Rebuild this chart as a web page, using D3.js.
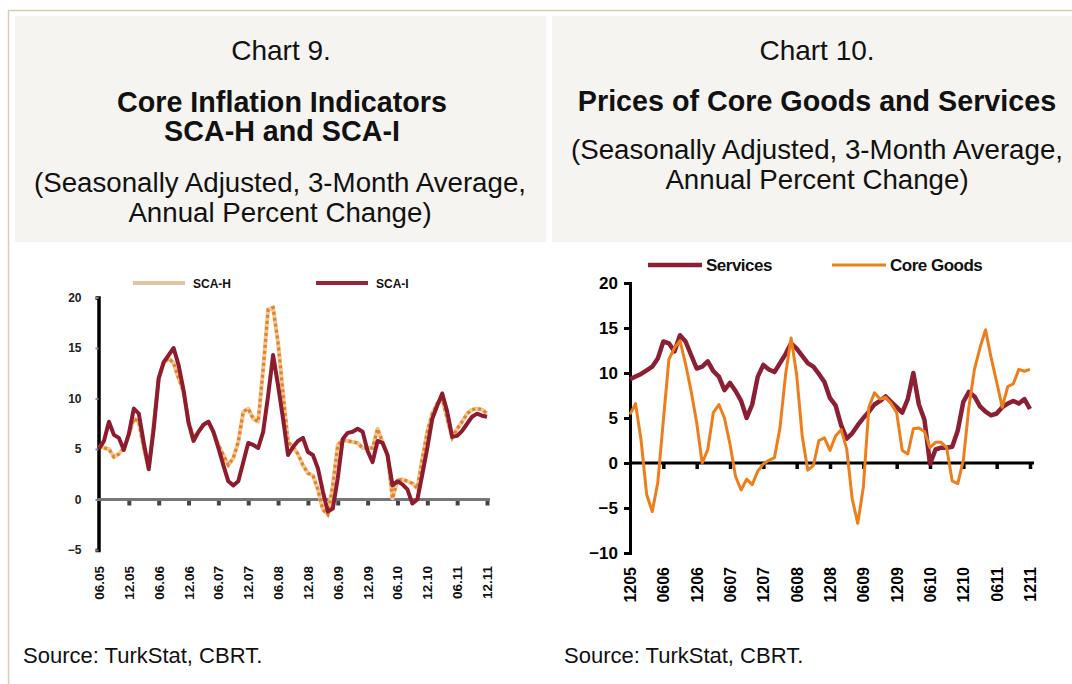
<!DOCTYPE html>
<html>
<head>
<meta charset="utf-8">
<script src="https://cdn.jsdelivr.net/npm/d3@7"></script>
<style>
  html, body { margin: 0; padding: 0; background: #ffffff; }
  svg { display: block; font-family: "Liberation Sans", Arial, sans-serif; }
</style>
</head>
<body>
<svg id="chart" width="1072" height="684"></svg>
<script>
// ---------- Chart 9 data (monthly, Jun 2005 - Dec 2011) ----------
const leftTickLabels = ["06.05","12.05","06.06","12.06","06.07","12.07","06.08","12.08","06.09","12.09","06.10","12.10","06.11","12.11"];
const leftYTicks = [-5, 0, 5, 10, 15, 20];
const scaH = [5.4,5.1,5.0,4.2,4.5,5.1,6.4,8.0,7.7,5.1,3.1,7.5,12.0,13.5,14.0,13.5,12.0,10.7,7.7,6.1,
  6.7,7.4,7.7,6.7,5.4,4.4,3.4,4.1,5.7,8.7,9.0,8.0,7.7,12.9,18.8,19.0,15.5,10.5,5.7,5.2,
  4.5,3.4,2.6,2.4,1.0,-1.0,-1.5,1.4,5.4,5.9,5.8,5.7,5.6,5.1,5.1,5.1,7.0,5.7,4.4,0.1,
  1.9,2.0,1.8,1.6,1.1,4.1,6.7,8.5,9.5,10.0,8.0,6.1,7.0,7.7,8.5,8.9,9.0,8.9,8.5];
const scaI = [5.0,5.8,7.7,6.4,6.1,4.9,6.5,9.0,8.5,5.6,3.0,7.0,12.0,13.6,14.3,15.0,13.3,10.8,7.6,5.8,
  6.7,7.4,7.7,6.7,5.1,3.4,1.8,1.4,1.8,3.7,5.6,5.4,5.1,6.7,10.3,14.3,11.3,8.0,4.4,5.2,
  5.8,6.1,4.7,4.4,3.1,0.8,-1.2,-0.9,2.1,6.0,6.6,6.7,7.0,6.7,4.8,3.7,5.8,5.6,4.4,1.4,
  1.8,1.5,1.0,-0.4,0.0,2.5,5.1,8.0,9.3,10.5,8.7,6.2,6.3,6.8,7.5,8.2,8.5,8.3,8.2];

// ---------- Chart 10 data (monthly, Dec 2005 - Dec 2011) ----------
const rightTickLabels = ["1205","0606","1206","0607","1207","0608","1208","0609","1209","0610","1210","0611","1211"];
const rightYTicks = [-10, -5, 0, 5, 10, 15, 20];
const services = [9.3,9.6,9.9,10.3,10.7,11.6,13.5,13.3,12.4,14.2,13.5,12.0,10.5,10.7,11.3,10.2,9.6,8.1,8.9,8.0,
  6.9,5.0,6.5,9.6,10.9,10.4,10.1,11.1,12.1,13.3,12.7,11.9,11.1,10.7,9.9,9.0,7.2,6.4,4.2,2.7,
  3.3,4.2,5.0,5.7,6.5,6.9,7.4,6.8,6.2,5.6,7.1,10.0,6.5,4.8,-0.1,1.5,1.7,1.7,1.8,3.6,
  6.8,7.9,7.4,6.3,5.7,5.3,5.5,6.2,6.6,6.9,6.6,7.1,6.0];
const coreGoods = [5.4,6.6,2.5,-3.5,-5.4,-2.2,4.7,11.5,12.8,13.6,11.0,8.0,4.5,0.0,1.5,5.6,6.5,5.0,2.1,-1.5,
  -3.0,-1.8,-2.4,-0.9,-0.1,0.3,0.6,3.9,9.8,13.9,9.8,3.0,-0.8,-0.3,2.5,2.8,1.4,3.0,3.7,1.6,
  -4.0,-6.7,-2.7,6.2,7.8,7.1,7.3,6.6,5.6,1.4,1.0,3.8,3.9,3.5,1.7,2.3,2.3,1.7,-2.0,-2.3,
  0.3,6.2,10.4,12.8,14.8,11.7,9.0,6.2,8.5,8.8,10.4,10.2,10.4];

const svg = d3.select("#chart");
svg.append("rect").attr("width", 1072).attr("height", 684).attr("fill", "#fff");

// frame lines
svg.append("line").attr("x1", 8).attr("x2", 1072).attr("y1", 10.5).attr("y2", 10.5)
  .attr("stroke", "#d9cdb5").attr("stroke-width", 1.5);
svg.append("line").attr("x1", 8.5).attr("x2", 8.5).attr("y1", 10).attr("y2", 684)
  .attr("stroke", "#d9cdb5").attr("stroke-width", 1.5);

// header panels
svg.append("rect").attr("x", 15).attr("y", 16).attr("width", 531).attr("height", 226).attr("fill", "#f5f4f0");
svg.append("rect").attr("x", 552).attr("y", 16).attr("width", 520).attr("height", 226).attr("fill", "#f5f4f0");

function headerText(x, y, txt, size, bold) {
  svg.append("text").attr("x", x).attr("y", y).attr("text-anchor", "middle")
    .attr("font-size", size).attr("font-weight", bold ? "bold" : "normal")
    .attr("fill", "#111").text(txt);
}
headerText(281, 60, "Chart 9.", 28, false);
headerText(282, 111.5, "Core Inflation Indicators", 28.7, true);
headerText(282, 140.5, "SCA-H and SCA-I", 28.7, true);
headerText(280, 192, "(Seasonally Adjusted, 3-Month Average,", 27.7, false);
headerText(280, 222, "Annual Percent Change)", 27.7, false);

headerText(817, 60, "Chart 10.", 28, false);
headerText(817, 111, "Prices of Core Goods and Services", 28.7, true);
headerText(817, 159, "(Seasonally Adjusted, 3-Month Average,", 27.7, false);
headerText(817, 189, "Annual Percent Change)", 27.7, false);

svg.append("text").attr("x", 23).attr("y", 663).attr("font-size", 22).attr("fill", "#111").text("Source: TurkStat, CBRT.");
svg.append("text").attr("x", 564).attr("y", 663).attr("font-size", 22).attr("fill", "#111").text("Source: TurkStat, CBRT.");

// ================= Chart 9 =================
const xL = d3.scaleLinear().domain([0, scaH.length - 1]).range([99, 487]);
const yL = d3.scaleLinear().domain([-5, 20]).range([550, 297.5]);
const gL = svg.append("g");

// y axis
const yAxisL = d3.axisLeft(yL).tickValues(leftYTicks).tickSize(3).tickPadding(14).tickFormat(d3.format("d"));
const gyL = gL.append("g").attr("transform", "translate(98.5,0)").call(yAxisL);
gyL.select(".domain").attr("stroke", "#000").attr("stroke-width", 3.5);
gyL.selectAll(".tick line").attr("stroke", "#888").attr("stroke-width", 2);
gyL.selectAll(".tick text").attr("font-size", 12).attr("font-weight", "bold").attr("fill", "#222")
  .attr("font-family", "'Liberation Sans', Arial, sans-serif");

// x axis at zero
const leftTickIdx = leftTickLabels.map((d, i) => i * 6);
const xAxisL = d3.axisBottom(xL).tickValues(leftTickIdx.slice(1)).tickSize(6).tickFormat("");
const gxL = gL.append("g").attr("transform", `translate(0,${yL(0)})`).call(xAxisL);
gxL.select(".domain").remove();
gL.append("line").attr("x1", 98).attr("x2", 490).attr("y1", yL(0)).attr("y2", yL(0))
  .attr("stroke", "#777").attr("stroke-width", 3);
gxL.selectAll(".tick line").attr("stroke", "#444").attr("stroke-width", 4);

// rotated x labels
const labL = gL.append("g").attr("transform", "translate(0,566)");
labL.selectAll("text").data(leftTickLabels).join("text")
  .attr("transform", (d, i) => `translate(${xL(leftTickIdx[i]) + 5},0) rotate(-90)`)
  .attr("text-anchor", "end").attr("font-size", 13.5).attr("font-weight", "bold").attr("fill", "#111")
  .text(d => d);

const lineL = d3.line().x((d, i) => xL(i)).y(d => yL(d));
gL.append("path").datum(scaH).attr("d", lineL).attr("fill", "none")
  .attr("stroke", "#ecc7a0").attr("stroke-width", 4).attr("stroke-linejoin", "round");
gL.append("path").datum(scaH).attr("d", lineL).attr("fill", "none")
  .attr("stroke", "#e8821e").attr("stroke-width", 3.2).attr("stroke-dasharray", "3,3");
gL.append("path").datum(scaI).attr("d", lineL).attr("fill", "none")
  .attr("stroke", "#8e1c2e").attr("stroke-width", 4).attr("stroke-linejoin", "round");

// legend
const legL = [{name: "SCA-H", color: "#e3c4a2", x: 133}, {name: "SCA-I", color: "#9a2436", x: 316}];
legL.forEach(l => {
  gL.append("line").attr("x1", l.x).attr("x2", l.x + 52).attr("y1", 283).attr("y2", 283)
    .attr("stroke", l.color).attr("stroke-width", 4);
  gL.append("text").attr("x", l.x + 60).attr("y", 287.5).attr("font-size", 12).attr("font-weight", "bold")
    .attr("fill", "#111").text(l.name);
});

// ================= Chart 10 =================
const xR = d3.scaleLinear().domain([0, services.length - 1]).range([630, 1030]);
const yR = d3.scaleLinear().domain([-10, 20]).range([553, 283]);
const gR = svg.append("g");

const yAxisR = d3.axisLeft(yR).tickValues(rightYTicks).tickSize(6).tickPadding(6).tickFormat(d3.format("d"));
const gyR = gR.append("g").attr("transform", "translate(630,0)").call(yAxisR);
gyR.select(".domain").attr("stroke", "#000").attr("stroke-width", 3);
gyR.selectAll(".tick line").attr("stroke", "#000").attr("stroke-width", 3);
gyR.selectAll(".tick text").attr("font-size", 17).attr("font-weight", "bold").attr("fill", "#000")
  .attr("font-family", "'Liberation Sans', Arial, sans-serif");

const rightTickIdx = rightTickLabels.map((d, i) => i * 6);
const xAxisR = d3.axisBottom(xR).tickValues(rightTickIdx.slice(1)).tickSize(6).tickFormat("");
const gxR = gR.append("g").attr("transform", `translate(0,${yR(0)})`).call(xAxisR);
gxR.select(".domain").remove();
gR.append("line").attr("x1", 629).attr("x2", 1034).attr("y1", yR(0)).attr("y2", yR(0))
  .attr("stroke", "#000").attr("stroke-width", 3);
gxR.selectAll(".tick line").attr("stroke", "#000").attr("stroke-width", 3.5);

const labR = gR.append("g").attr("transform", "translate(0,567)");
labR.selectAll("text").data(rightTickLabels).join("text")
  .attr("transform", (d, i) => `translate(${xR(rightTickIdx[i]) + 6},0) rotate(-90)`)
  .attr("text-anchor", "end").attr("font-size", 16).attr("font-weight", "bold").attr("fill", "#000")
  .text(d => d);

const lineR = d3.line().x((d, i) => xR(i)).y(d => yR(d));
gR.append("path").datum(services).attr("d", lineR).attr("fill", "none")
  .attr("stroke", "#8b1f33").attr("stroke-width", 4.5).attr("stroke-linejoin", "round");
gR.append("path").datum(coreGoods).attr("d", lineR).attr("fill", "none")
  .attr("stroke", "#ec7f1c").attr("stroke-width", 3).attr("stroke-linejoin", "round");

const legR = [{name: "Services", color: "#8b1f33", w: 4.5, x: 648}, {name: "Core Goods", color: "#ec7f1c", w: 3, x: 832}];
legR.forEach(l => {
  gR.append("line").attr("x1", l.x).attr("x2", l.x + 54).attr("y1", 265).attr("y2", 265)
    .attr("stroke", l.color).attr("stroke-width", l.w);
  gR.append("text").attr("x", l.x + 58).attr("y", 271).attr("font-size", 17).attr("font-weight", "bold")
    .attr("fill", "#111").attr("letter-spacing", -0.5).text(l.name);
});
</script>
</body>
</html>
